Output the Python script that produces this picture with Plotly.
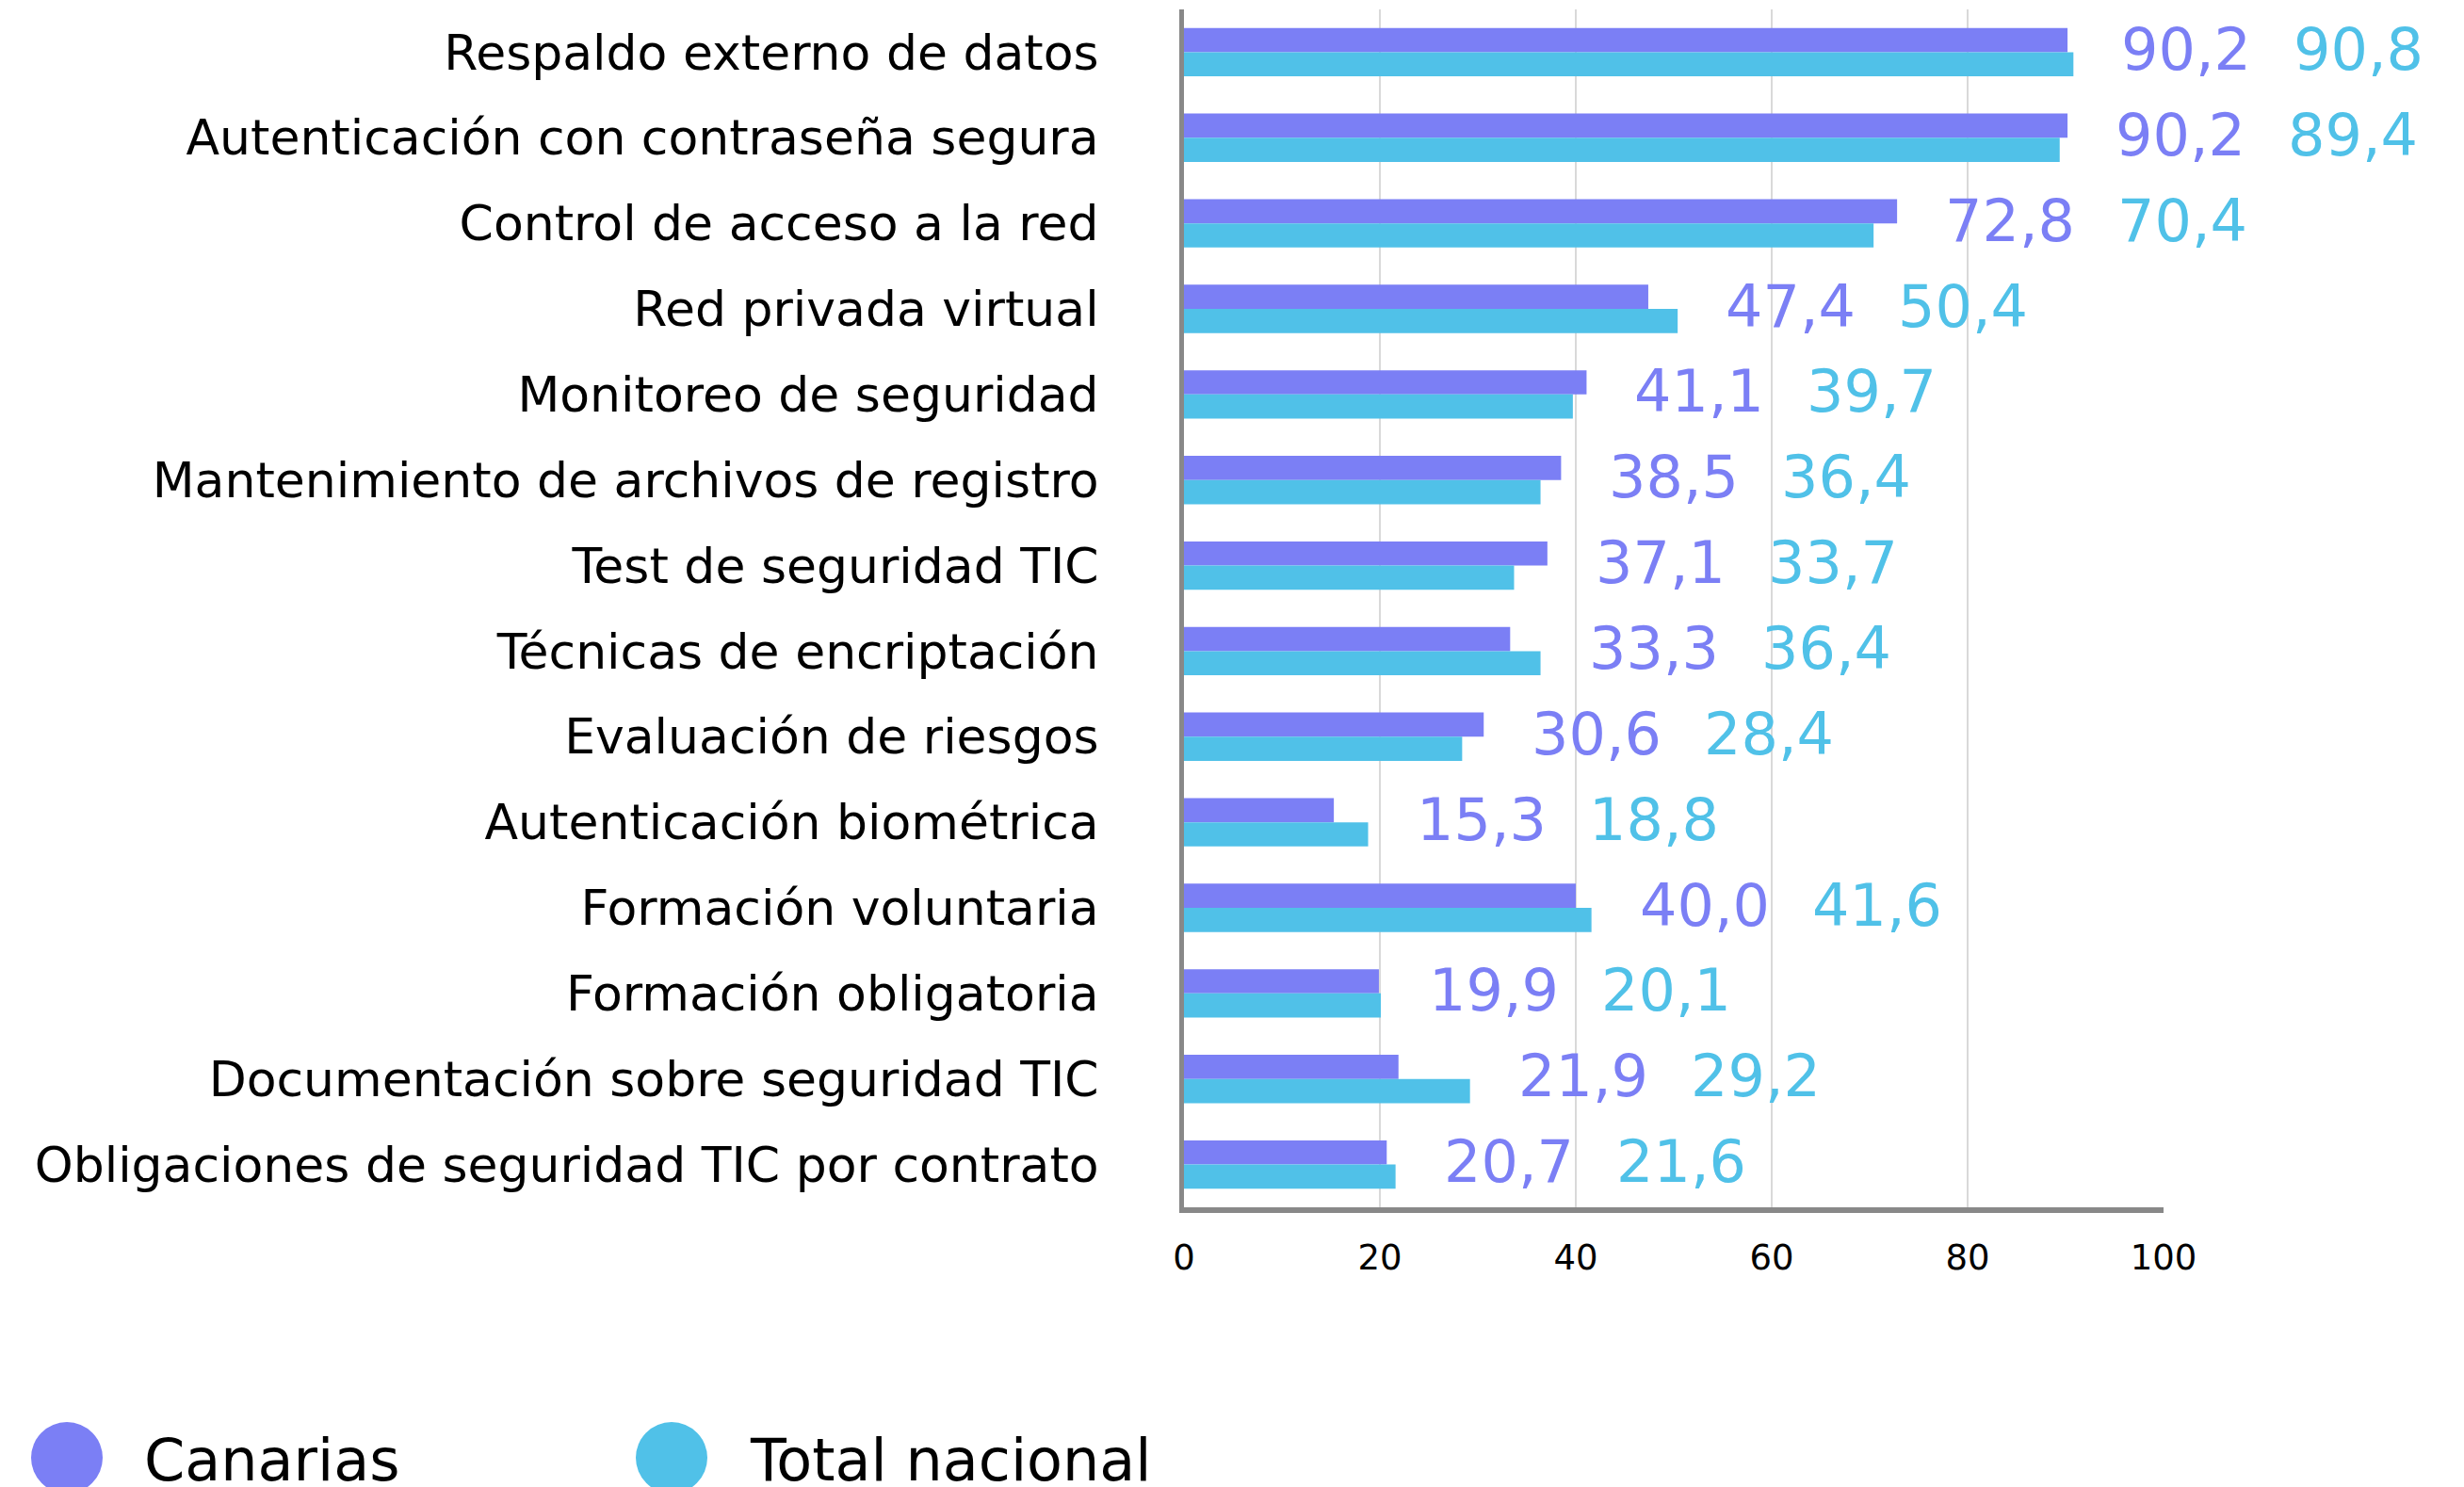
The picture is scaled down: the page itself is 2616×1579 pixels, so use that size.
import plotly.graph_objects as go

categories = [
    "Respaldo externo de datos",
    "Autenticación con contraseña segura",
    "Control de acceso a la red",
    "Red privada virtual",
    "Monitoreo de seguridad",
    "Mantenimiento de archivos de registro",
    "Test de seguridad TIC",
    "Técnicas de encriptación",
    "Evaluación de riesgos",
    "Autenticación biométrica",
    "Formación voluntaria",
    "Formación obligatoria",
    "Documentación sobre seguridad TIC",
    "Obligaciones de seguridad TIC por contrato",
]
canarias = [90.2, 90.2, 72.8, 47.4, 41.1, 38.5, 37.1, 33.3, 30.6, 15.3, 40.0, 19.9, 21.9, 20.7]
total_nacional = [90.8, 89.4, 70.4, 50.4, 39.7, 36.4, 33.7, 36.4, 28.4, 18.8, 41.6, 20.1, 29.2, 21.6]
series_names = ["Canarias", "Total nacional"]
x_ticks = [0, 20, 40, 60, 80, 100]

C_PURPLE = "#7B7FF5"
C_CYAN = "#50C1E8"
FONT = "DejaVu Sans"

W, H = 2616, 1579
PL, PR, PT, PB = 1257, 2297, 10, 1282  # plot area pixel bounds


def px_to_paper_x(px):
    return (px - PL) / (PR - PL)


def px_to_paper_y(py):
    return (PB - py) / (PB - PT)


def fmt(v):
    return f"{v:.1f}".replace(".", ",")


fig = go.Figure()
fig.add_trace(go.Bar(
    y=categories, x=canarias, orientation="h", name=series_names[0],
    marker=dict(color=C_PURPLE, line=dict(width=0)), showlegend=False,
))
fig.add_trace(go.Bar(
    y=categories, x=total_nacional, orientation="h", name=series_names[1],
    marker=dict(color=C_CYAN, line=dict(width=0)), showlegend=False,
))

annotations = []
for cat, a, b in zip(categories, canarias, total_nacional):
    m = max(a, b)
    annotations.append(dict(x=m, y=cat, xref="x", yref="y", text=fmt(a), showarrow=False,
                            xanchor="left", yanchor="middle", xshift=49, yshift=3,
                            font=dict(family=FONT, size=62, color=C_PURPLE)))
    annotations.append(dict(x=m, y=cat, xref="x", yref="y", text=fmt(b), showarrow=False,
                            xanchor="left", yanchor="middle", xshift=232, yshift=3,
                            font=dict(family=FONT, size=62, color=C_CYAN)))

# manual legend
legend_items = [(series_names[0], C_PURPLE, 71, 151), (series_names[1], C_CYAN, 713, 794)]
shapes = []
for name, col, cx, tx in legend_items:
    shapes.append(dict(type="circle", xref="paper", yref="paper",
                       xsizemode="pixel", ysizemode="pixel",
                       xanchor=px_to_paper_x(cx), yanchor=px_to_paper_y(1548),
                       x0=-38, x1=38, y0=-38, y1=38,
                       fillcolor=col, line=dict(width=0)))
    annotations.append(dict(x=px_to_paper_x(tx), y=px_to_paper_y(1550), xref="paper", yref="paper",
                            text=name, showarrow=False, xanchor="left", yanchor="middle",
                            font=dict(family=FONT, size=62, color="#000000")))

fig.update_layout(
    width=W, height=H,
    margin=dict(l=PL, r=W - PR, t=PT, b=H - PB, pad=0, autoexpand=False),
    paper_bgcolor="white", plot_bgcolor="white",
    barmode="group", bargap=0.435, bargroupgap=0,
    showlegend=False,
    annotations=annotations, shapes=shapes,
    xaxis=dict(range=[0, 100], tickvals=x_ticks, showgrid=True, gridcolor="#D9D9D9", gridwidth=2,
               zeroline=False, showline=True, linecolor="#888888", linewidth=6,
               ticks="outside", ticklen=16, tickcolor="rgba(0,0,0,0)", automargin=False,
               tickfont=dict(family=FONT, size=37, color="#000000"), fixedrange=True),
    yaxis=dict(autorange="reversed", showgrid=False, zeroline=False, showline=True,
               linecolor="#888888", linewidth=5, automargin=False,
               ticks="outside", ticklen=75, tickcolor="rgba(0,0,0,0)",
               tickfont=dict(family=FONT, size=52, color="#000000"), fixedrange=True),
)

fig.write_html("out.html", config={"displayModeBar": False},
               post_script="document.body.style.margin='0';")
